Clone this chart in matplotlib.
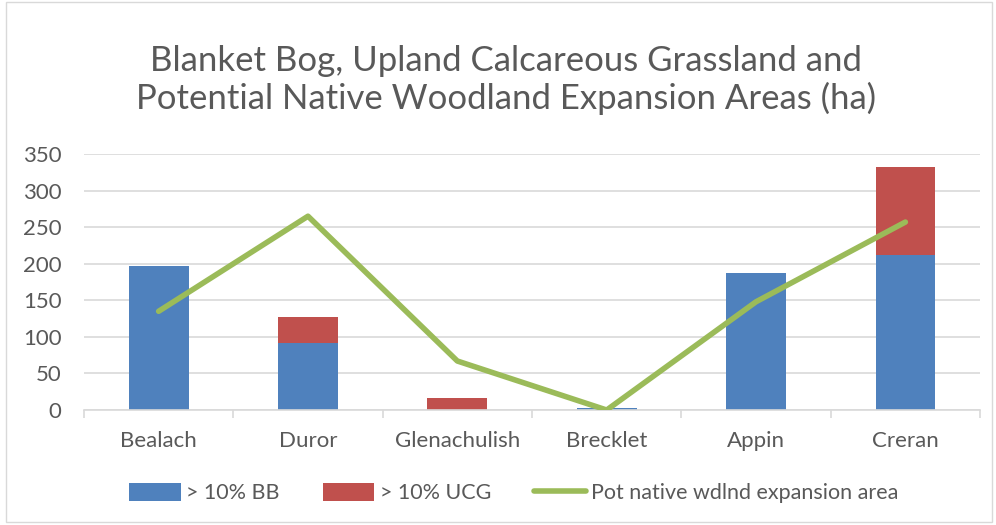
import matplotlib.pyplot as plt
import numpy as np
from matplotlib.patches import Rectangle

sites = ['Bealach', 'Duror', 'Glenachulish', 'Brecklet', 'Appin', 'Creran']
bbArea = [197, 91, 0, 3, 188, 212]
ucgArea = [0, 36, 16, 0, 0, 120]
potWoodland = [135, 265, 67, 0, 148, 257]

plt.rcParams['font.family'] = ['Lato', 'DejaVu Sans']
textGrey = '#595959'

fig = plt.figure(figsize=(9.96, 5.25), dpi=100)
ax = fig.add_axes([0.0843, 0.219, 0.8997, 0.4876])

x = np.arange(len(sites))
bbBars = ax.bar(x, bbArea, 0.4, color='#4F81BD', label='> 10% BB', zorder=2)
ucgBars = ax.bar(x, ucgArea, 0.4, bottom=bbArea, color='#C0504D', label='> 10% UCG', zorder=2)
potLine, = ax.plot(x, potWoodland, color='#9BBB59', linewidth=4, solid_capstyle='round',
                   label='Pot native wdlnd expansion area', zorder=3)

ax.set_xlim(-0.5, len(sites) - 0.5)
ax.set_ylim(0, 350)
ax.set_yticks(range(0, 351, 50))
ax.yaxis.grid(True, color='#D9D9D9', linewidth=1.2, zorder=0)
ax.set_axisbelow(True)
for s in ['top', 'right', 'left']:
    ax.spines[s].set_visible(False)
ax.spines['bottom'].set_color('#D9D9D9')
ax.spines['bottom'].set_linewidth(1.2)

ax.set_xticks(x)
ax.set_xticklabels(sites)
ax.tick_params(axis='x', length=0, labelsize=16, labelcolor=textGrey, pad=15)
ax.set_xticks(np.arange(-0.5, len(sites)), minor=True)
ax.tick_params(axis='x', which='minor', length=6, color='#D9D9D9', width=1.2)
ax.tick_params(axis='y', length=0, labelsize=16, labelcolor=textGrey, pad=16)

fig.text(0.508, 0.848, 'Blanket Bog, Upland Calcareous Grassland and\nPotential Native Woodland Expansion Areas (ha)',
         ha='center', va='center', fontsize=25, color=textGrey, linespacing=1.2)

fig.legend([bbBars, ucgBars, potLine],
           ['> 10% BB', '> 10% UCG', 'Pot native wdlnd expansion area'],
           loc='center', bbox_to_anchor=(0.516, 0.061), ncol=3, frameon=False,
           fontsize=15.5, labelcolor=textGrey, handlelength=2.4, handleheight=0.95,
           columnspacing=2.0, handletextpad=0.25)

fig.patches.append(Rectangle((0.006, 0.006), 0.99, 0.99, transform=fig.transFigure,
                             fill=False, edgecolor='#D9D9D9', linewidth=1))

plt.savefig('out.png', dpi=100)
